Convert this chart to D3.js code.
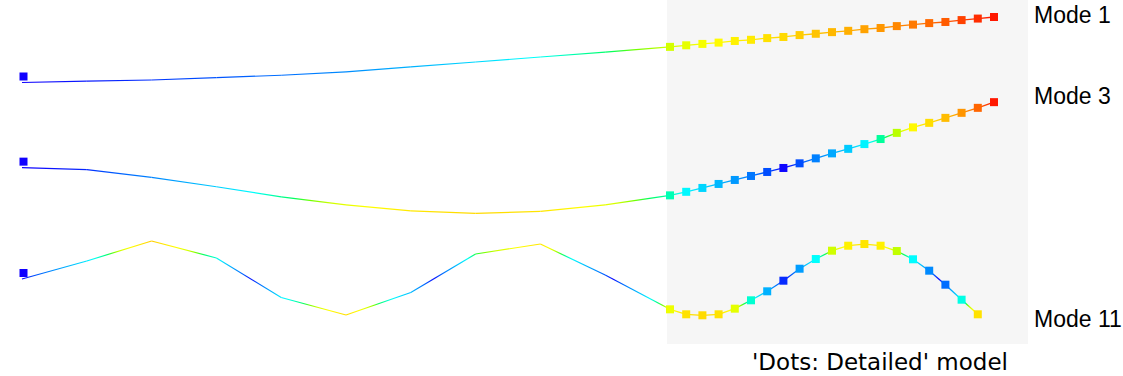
<!DOCTYPE html>
<html><head><meta charset="utf-8">
<script src="https://cdn.jsdelivr.net/npm/d3@7"></script>
<style>html,body{margin:0;padding:0;background:#fff;overflow:hidden}</style>
</head><body>
<svg id="chart" width="1123" height="376"></svg>
<script>
// ---------------- data ----------------
const modes = ["Mode 1", "Mode 3", "Mode 11"];
const modeLevels = [3.0, 1.7, 0.0];          // vertical stacking level of each mode
const colorMax = [1.0, 1.0, 0.8];            // |displacement| mapped to the top of the colour map
const coarseX = [0, 1, 2, 3, 4, 5, 6, 7, 8, 9, 10];
const fineX = [10, 10.25, 10.5, 10.75, 11, 11.25, 11.5, 11.75, 12, 12.25, 12.5,
               12.75, 13, 13.25, 13.5, 13.75, 14, 14.25, 14.5, 14.75, 15];

const mode1Coarse = [0, 0.020, 0.038, 0.073, 0.111, 0.162, 0.238, 0.313, 0.389, 0.463, 0.544];
const mode1Fine = [0.544, 0.568, 0.589, 0.609, 0.634, 0.652, 0.678, 0.695, 0.724, 0.744, 0.769,
                   0.789, 0.814, 0.832, 0.861, 0.884, 0.907, 0.924, 0.953, 0.976, 1.0];

const mode3Coarse = [0, -0.031, -0.148, -0.292, -0.445, -0.568, -0.66, -0.698, -0.667, -0.568, -0.423];
const mode3Fine = [-0.423, -0.369, -0.310, -0.249, -0.188, -0.127, -0.066, -0.005, 0.066, 0.142, 0.218,
                   0.287, 0.360, 0.437, 0.531, 0.615, 0.684, 0.760, 0.837, 0.913, 1.0];

const mode11Coarse = [0, 0.275, 0.58, 0.321, -0.282, -0.55, -0.206, 0.382, 0.534, 0.061, -0.463];
const mode11Fine = [-0.463, -0.539, -0.554, -0.539, -0.453, -0.325, -0.188, -0.026, 0.157, 0.305,
                    0.432, 0.508, 0.534, 0.508, 0.427, 0.301, 0.127, -0.087, -0.316, -0.539];

const coarseSeries = [mode1Coarse, mode3Coarse, mode11Coarse];
const fineSeries = [mode1Fine, mode3Fine, mode11Fine];

const colorStops = [0, 0.05, 0.10, 0.17, 0.25, 0.33, 0.38, 0.43, 0.47, 0.50, 0.54, 0.60, 0.70, 0.80, 0.90, 1.0];
const colorValues = ["#1000ff", "#0040ff", "#0068ff", "#0090ff", "#00b8ff", "#00e0ff", "#00ffff", "#00ffa8",
                     "#00ff60", "#70ff00", "#d0ff00", "#ffff00", "#ffd800", "#ffaa00", "#ff7000", "#ff1800"];

const detailTitle = "'Dots: Detailed' model";

// ---------------- layout ----------------
const svg = d3.select("#chart");
const x = d3.scaleLinear().domain([0, 15]).range([22, 994]);
const y = d3.scaleLinear().domain([0, 1]).range([279, 213.5]);
const color = d3.scaleLinear().domain(colorStops).range(colorValues).clamp(true);

const labelBaselines = [22.7, 104, 326.7];

// grey background for detailed region
svg.append("rect")
  .attr("x", 667).attr("y", 0)
  .attr("width", 1028 - 667).attr("height", 344)
  .attr("fill", "#f6f6f6");

const defs = svg.append("defs");
let gid = 0;
function gradSegment(g, x1, y1, x2, y2, d1, d2, cmax, sw) {
  const id = "g" + (gid++);
  const grad = defs.append("linearGradient")
    .attr("id", id).attr("gradientUnits", "userSpaceOnUse")
    .attr("x1", x1).attr("y1", y1).attr("x2", x2).attr("y2", y2);
  const n = 16;
  for (let k = 0; k <= n; k++) {
    const t = k / n;
    const d = d1 + (d2 - d1) * t;
    grad.append("stop").attr("offset", t).attr("stop-color", color(Math.abs(d) / cmax));
  }
  g.append("line")
    .attr("x1", x1).attr("y1", y1).attr("x2", x2).attr("y2", y2)
    .attr("stroke", `url(#${id})`).attr("stroke-width", sw)
    .attr("stroke-linecap", "butt");
}

modes.forEach((m, i) => {
  const g = svg.append("g");
  const lvl = modeLevels[i];
  const cmax = colorMax[i];
  const coarse = coarseSeries[i];
  const fine = fineSeries[i];
  for (let j = 0; j < coarse.length - 1; j++) {
    gradSegment(g, x(coarseX[j]), y(lvl + coarse[j]), x(coarseX[j + 1]), y(lvl + coarse[j + 1]),
      coarse[j], coarse[j + 1], cmax, 1.2);
  }
  for (let j = 0; j < fine.length - 1; j++) {
    gradSegment(g, x(fineX[j]), y(lvl + fine[j]), x(fineX[j + 1]), y(lvl + fine[j + 1]),
      fine[j], fine[j + 1], cmax, 1.3);
  }
  g.selectAll("rect.dot").data(fine).enter().append("rect")
    .attr("class", "dot")
    .attr("x", (d, j) => x(fineX[j]) - 4)
    .attr("y", d => y(lvl + d) - 4)
    .attr("width", 8).attr("height", 8)
    .attr("fill", d => color(Math.abs(d) / cmax));
  g.append("rect")
    .attr("x", x(coarseX[0]) + 1.5 - 4)
    .attr("y", y(lvl + coarse[0]) - 6 - 4)
    .attr("width", 8).attr("height", 8)
    .attr("fill", color(Math.abs(coarse[0]) / cmax));
  svg.append("text")
    .attr("x", 1034).attr("y", labelBaselines[i])
    .attr("font-family", "Liberation Sans, Arial, sans-serif")
    .attr("font-size", 23).attr("fill", "#000")
    .text(m);
});

svg.append("text")
  .attr("x", 880).attr("y", 370)
  .attr("text-anchor", "middle")
  .attr("font-family", "DejaVu Sans, sans-serif")
  .attr("font-size", 23).attr("fill", "#000")
  .text(detailTitle);
</script>
</body></html>
